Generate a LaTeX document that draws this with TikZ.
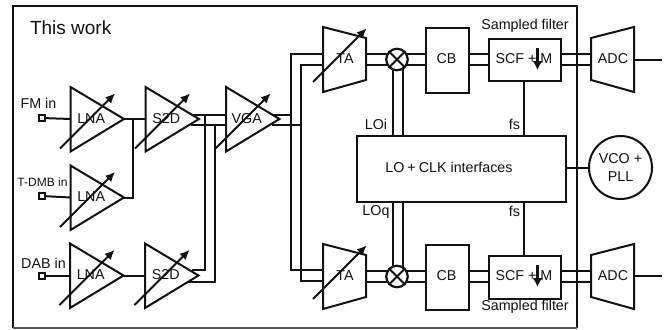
\documentclass[tikz,border=0pt]{standalone}
\usepackage{fontspec}
\setmainfont{Liberation Sans}
\usetikzlibrary{arrows.meta}
\definecolor{ink}{gray}{0.07}
\tikzset{
  every path/.style={line width=2pt, line join=miter, color=ink},
  lbl/.style={inner sep=0pt, font=\fontsize{14.3}{16}\selectfont, text=ink},
  smalllbl/.style={inner sep=0pt, font=\fontsize{12}{14}\selectfont, text=ink},
  filterlbl/.style={inner sep=0pt, font=\fontsize{14.3}{16}\selectfont, text=ink},
  worklbl/.style={inner sep=0pt, font=\fontsize{19}{22}\selectfont, text=ink},
  tune/.style={draw, -{Latex[length=10pt,width=9pt]}, shorten >=-1pt},
  portbox/.style={draw, line width=2pt, minimum size=6pt, inner sep=0pt, rectangle, fill=white},
  blockbox/.style={draw, line width=2pt, rectangle, inner sep=0pt, anchor=north west},
  mixer/.style={draw, line width=2.2pt, circle, minimum size=21.5pt, inner sep=0pt, fill=white},
  pllcircle/.style={draw, line width=2pt, circle, minimum size=63pt, inner sep=0pt, align=center}
}
% amplifier triangle: name, left x, top y, label
\newcommand{\ampshape}[4]{%
  \coordinate (#1-a) at (#2,#3);
  \coordinate (#1-b) at (#2,#3+64.5);
  \coordinate (#1-out) at (#2+53.5,#3+32);
  \coordinate (#1-in) at (#2,#3+32);
  \draw (#1-a) -- (#1-out) -- (#1-b) -- cycle;
  \node[lbl] (#1) at (#2+20.7,#3+31.5) {#4};
  \draw[tune] (#2-10.5,#3+61.5) -- (#2+44,#3+7);
}
% variable transconductance trapezoid: name, top y
\newcommand{\tashape}[2]{%
  \draw (323,#2) -- (366,#2+11) -- (366,#2+53) -- (323,#2+65) -- cycle;
  \node[lbl] (#1) at (345,#2+32) {TA};
  \draw[tune] (313,#2+55) -- (366,#2+2);
}
% ADC trapezoid
\newcommand{\adcshape}[2]{%
  \draw (591,#2+11) -- (634,#2) -- (634,#2+65) -- (591,#2+53) -- cycle;
  \node[lbl] (#1) at (613,#2+32) {ADC};
}
\begin{document}
\begin{tikzpicture}[x=1pt,y=-1pt]
\path[use as bounding box] (0,0) rectangle (671,329);
% frame
\draw (13,328) -- (13,6.5) -- (576.5,6.5) -- (576.5,328);
\draw[color=black!65] (13,328) -- (576.5,328);
\node[worklbl, anchor=west] (work) at (29,27.5) {This work};

% inputs
\node[portbox] (p1) at (42,118) {};
\node[portbox] (p2) at (42,196) {};
\node[portbox] (p3) at (42,275.5) {};
\node[lbl] (fm) at (38.5,103) {FM in};
\node[smalllbl] (tdmb) at (42.5,182) {T-DMB in};
\node[lbl] (dab) at (43.5,263.5) {DAB in};

% amplifiers
\ampshape{lnaa}{70.5}{87}{LNA}
\ampshape{lnab}{70.5}{165.5}{LNA}
\ampshape{lnac}{70}{243.5}{LNA}
\ampshape{sda}{145.5}{87}{S2D}
\ampshape{sdb}{145}{243.5}{S2D}
\ampshape{vga}{226}{87}{VGA}

\draw (p1) -- (lnaa-in);
\draw (p2) -- (lnab-in);
\draw (p3) -- (lnac-in);
\draw (lnaa-out) -- (sda-in);
\draw (lnac-out) -- (sdb-in);
\coordinate (join) at (133,119);
\draw (join) -- (133,197.5) -- (lnab-out);

% differential routing
\coordinate (sa1) at (193,114.5);
\coordinate (sa2) at (191,125);
\coordinate (sb1) at (192,270);
\coordinate (sb2) at (189,281.5);
\coordinate (va1) at (226,114.5);
\coordinate (va2) at (226,125);
\draw (sa1) -- (va1);
\draw (sa2) -- (va2);
\draw (205,114.5) -- (205,270) -- (sb1);
\draw (215,125) -- (215,281.5) -- (sb2);
\coordinate (vo1) at (272,114.5);
\coordinate (vo2) at (272,125);
\draw (vo1) -- (291,114.5);
\draw (vo2) -- (301,125);
\coordinate (tt1) at (323,54.5);
\coordinate (tt2) at (323,65);
\coordinate (tb1) at (323,270);
\coordinate (tb2) at (323,281);
\draw (tt1) -- (291,54.5) -- (291,270) -- (tb1);
\draw (tt2) -- (301,65) -- (301,281) -- (tb2);

% TA
\tashape{tat}{27}
\tashape{tab}{244}

% LO box
\node[blockbox, minimum width=209.5pt, minimum height=65.5pt] (lo) at (355.5,135) {};
\node[lbl] (lotext) at (449,167) {LO\hspace{3pt}+\hspace{3pt}CLK interfaces};

% CB
\node[blockbox, minimum width=43pt, minimum height=65pt] (cba) at (425,27) {};
\node[lbl] (cbat) at (446.5,59) {CB};
\node[blockbox, minimum width=43pt, minimum height=64.5pt] (cbb) at (425,244) {};
\node[lbl] (cbbt) at (446.5,276) {CB};

% SCF
\node[blockbox, minimum width=72pt, minimum height=42pt] (scfa) at (488,38) {};
\node[blockbox, minimum width=72pt, minimum height=42.5pt] (scfb) at (488,255) {};
\node[lbl] (scfat) at (524,59) {SCF + M};
\node[lbl] (scfbt) at (524,276) {SCF + M};
\draw[-{Latex[length=9pt,width=10pt]}, line width=2.2pt] (537.5,48) -- (537.5,70);
\draw[-{Latex[length=9pt,width=10pt]}, line width=2.2pt] (537.5,265) -- (537.5,287);
\node[filterlbl] (sfa) at (525,26) {Sampled filter};
\node[filterlbl] (sfb) at (525,307) {Sampled filter};

% ADC
\adcshape{adca}{27}
\adcshape{adcb}{244}
\coordinate (oa) at (662,59.5);
\coordinate (ob) at (662,276);
\draw (634,59.5) -- (oa);
\draw (634,276) -- (ob);

% mixers
\coordinate (wt1) at (366,54.5);
\coordinate (wt2) at (366,65);
\coordinate (wb1) at (366,271);
\coordinate (wb2) at (366,281.5);
\draw (wt1) -- (cba.west |- wt1);
\draw (wt2) -- (cba.west |- wt2);
\draw (wb1) -- (cbb.west |- wb1);
\draw (wb2) -- (cbb.west |- wb2);
\draw (393,59) -- (393,135);
\draw (403,59) -- (403,135);
\draw (393,200.5) -- (393,277);
\draw (403,200.5) -- (403,277);
\node[mixer] (ma) at (397,59.5) {};
\node[mixer] (mb) at (397,276.5) {};
\draw (ma.north west) -- (ma.south east);
\draw (ma.north east) -- (ma.south west);
\draw (mb.north west) -- (mb.south east);
\draw (mb.north east) -- (mb.south west);

% CB to SCF to ADC
\draw (468,54.5) -- (488,54.5);
\draw (468,65) -- (488,65);
\draw (468,271) -- (488,271);
\draw (468,281.5) -- (488,281.5);
\draw (560,54.5) -- (591,54.5);
\draw (560,65) -- (591,65);
\draw (560,271) -- (591,271);
\draw (560,281.5) -- (591,281.5);

% clocks
\coordinate (fa) at (524.3,135);
\coordinate (fb) at (524.3,200.5);
\draw (scfa.south -| fa) -- (fa);
\draw (fb) -- (scfb.north -| fb);
\node[lbl] (loi) at (376,124) {LOi};
\node[lbl] (loq) at (376,211.5) {LOq};
\node[lbl] (fsa) at (514.5,124) {fs};
\node[lbl] (fsb) at (514.5,211) {fs};

% PLL
\node[pllcircle] (pll) at (620.5,167.5) {};
\node[lbl] (vcot) at (620.5,159) {VCO +};
\node[lbl] (pllt) at (620.5,176.5) {PLL};
\draw (lo.east |- 0,168) -- (pll.west |- 0,168);
\end{tikzpicture}
\end{document}
